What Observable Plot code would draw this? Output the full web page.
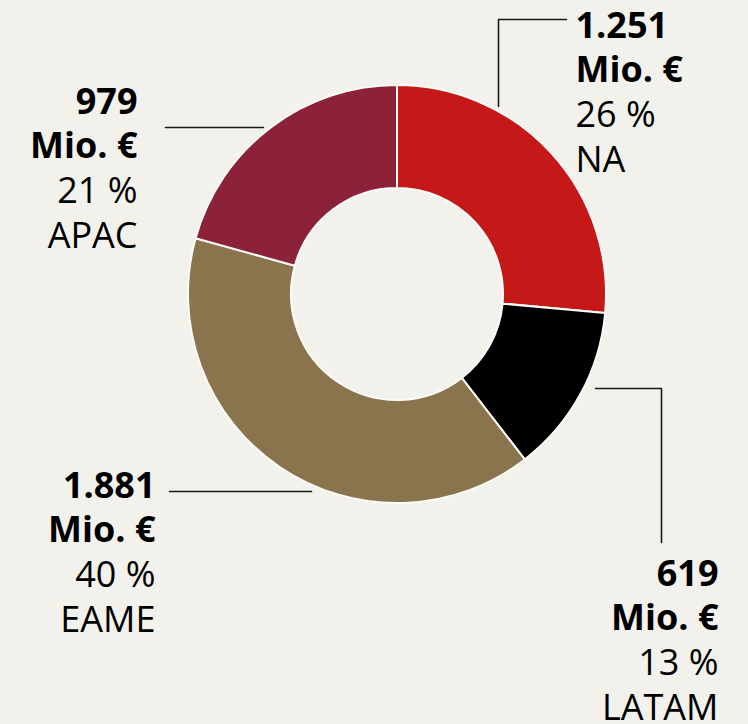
<!DOCTYPE html>
<html><head><meta charset="utf-8">
<script src="https://cdn.jsdelivr.net/npm/d3@7"></script>
<script src="https://cdn.jsdelivr.net/npm/@observablehq/plot@0.6"></script>
<style>
html,body{margin:0;padding:0;background:#f3f1ec;}
#chart{width:748px;height:724px;}
</style></head><body><div id="chart"></div>
<script>
// ---- data ----
const regions = ["NA", "LATAM", "EAME", "APAC"];
const values = [1251, 619, 1881, 979];
const unit = "Mio. €";
const colors = ["#c41819", "#000000", "#8a744d", "#8b2239"];

// ---- layout (frame coordinates) ----
const center = {x: 397, y: 294};
const radii = {inner: 106, outer: 209};
const labelPos = {
  NA:    {x: 575, y: 37,  anchor: "start"},
  LATAM: {x: 718, y: 585, anchor: "end"},
  EAME:  {x: 155, y: 497, anchor: "end"},
  APAC:  {x: 137, y: 113, anchor: "end"}
};
const leaderPath = {
  NA:    [[498, 106], [498, 19], [566, 19]],
  LATAM: [[595, 388], [661, 388], [661, 542]],
  EAME:  [[169, 491], [311, 491]],
  APAC:  [[165, 127], [263, 127]]
};

const fontSize = 36;
const lineH = 44.7;

const total = d3.sum(values);
const de = d3.formatLocale({decimal: ",", thousands: ".", grouping: [3], currency: ["", " €"]});
const fmt = de.format(",d");
const rows = regions.map((r, i) => ({
  region: r, value: values[i], pct: Math.round(values[i] / total * 100),
  ...labelPos[r]
}));
const leaders = regions.flatMap(r => leaderPath[r].map(([x, y]) => ({region: r, x, y})));
const colorOf = d3.scaleOrdinal(regions, colors);

const donut = (index, scales) => {
  const cx = scales.x(center.x), cy = scales.y(center.y);
  const ri = scales.x(center.x + radii.inner) - cx;
  const ro = scales.x(center.x + radii.outer) - cx;
  const arcs = d3.pie().sort(null).value(d => d.value)(rows);
  const arc = d3.arc().innerRadius(ri).outerRadius(ro);
  const g = d3.create("svg:g").attr("transform", `translate(${cx},${cy})`);
  g.selectAll("path").data(arcs).join("path")
    .attr("d", arc)
    .attr("fill", d => colorOf(d.data.region))
    .attr("stroke", "#fbfaf7")
    .attr("stroke-width", 2)
    .attr("stroke-linejoin", "round");
  return g.node();
};

const textMarks = anchor => {
  const sub = rows.filter(d => d.anchor === anchor);
  const common = {textAnchor: anchor, lineAnchor: "top", dy: -0.71 * lineH,
    fontSize, lineHeight: lineH / fontSize, fill: "#000"};
  return [
    Plot.text(sub, {x: "x", y: "y", text: d => `${fmt(d.value)}\n${unit}`,
      fontWeight: "bold", ...common}),
    Plot.text(sub, {x: "x", y: d => d.y + 2 * lineH, text: d => `${d.pct} %\n${d.region}`,
      fontWeight: "normal", ...common})
  ];
};

const chart = Plot.plot({
  width: 748, height: 724,
  margin: 0,
  x: {domain: [0, 748], range: [0, 748], axis: null},
  y: {domain: [0, 724], range: [0, 724], axis: null},
  style: {background: "#f3f1ec", fontFamily: "'Open Sans', sans-serif", overflow: "visible"},
  marks: [
    donut,
    Plot.line(leaders, {x: "x", y: "y", z: "region", stroke: "#1a1a1a", strokeWidth: 1.6, curve: "linear"}),
    ...textMarks("start"),
    ...textMarks("end")
  ]
});
document.getElementById("chart").appendChild(chart);
</script></body></html>
